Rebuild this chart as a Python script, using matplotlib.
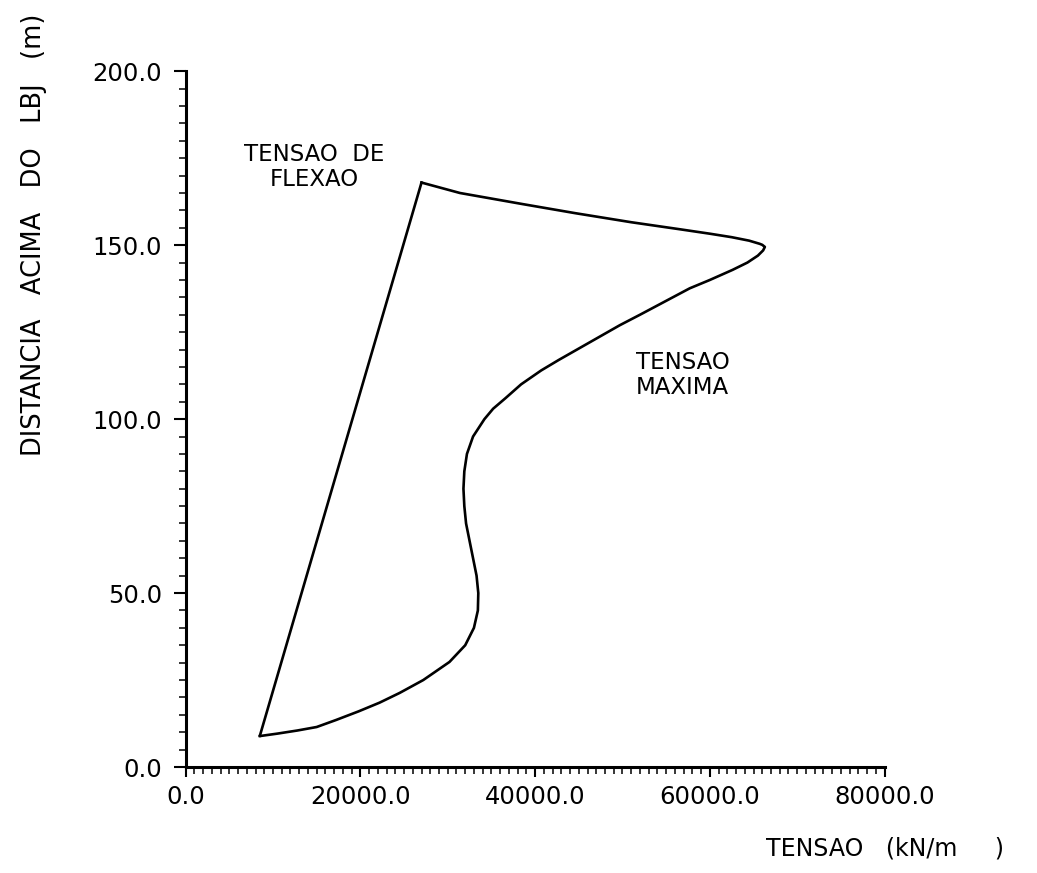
import numpy as np
import matplotlib
matplotlib.use("Agg")
from matplotlib import pyplot as plt
from matplotlib.ticker import MultipleLocator, FormatStrFormatter

# tensao de flexao: straight line
flex_x = [8500, 27000]
flex_y = [9, 168]

# tensao maxima: from bottom apex up to the top corner
max_x = [8500, 10500, 12800, 15000, 17200, 19800, 22200, 24500, 27200, 30200,
         32000, 33000, 33450, 33500, 33300, 32900, 32500, 32100, 31900, 31800,
         31900, 32200, 32900, 34200, 35200, 36600, 38400, 40700, 42700, 44800,
         47600, 49700, 52000, 55000, 57700, 60000, 62600, 64300, 65500, 66100,
         66300, 66000, 65700, 64500, 62500, 60000, 56500, 51000, 44600, 38600,
         35000, 31400, 27000]
max_y = [8.9, 9.6, 10.5, 11.5, 13.5, 16, 18.5, 21.3, 25, 30.2,
         35, 40, 45, 50, 55, 60, 65, 70, 75, 80,
         85, 90, 95, 100, 103, 106, 110, 114, 117, 120,
         124, 127, 130, 134, 137.6, 140, 142.9, 145, 147, 148.5,
         149.5, 150.1, 150.4, 151.3, 152.3, 153.3, 154.6, 156.6, 159.2, 161.8,
         163.4, 165, 168]

xticks = [0, 20000, 40000, 60000, 80000]
yticks = [0, 50, 100, 150, 200]

plt.rcParams['font.family'] = ['DejaVu Sans']
fig = plt.figure(figsize=(10.37, 8.73), dpi=100)
ax = fig.add_axes([0.179, 0.1214, 0.674, 0.797])

ax.plot(flex_x, flex_y, color='black', lw=1.9)
ax.plot(max_x, max_y, color='black', lw=1.9)

ax.set_xlim(0, 80000)
ax.set_ylim(0, 200)
ax.set_xticks(xticks)
ax.set_yticks(yticks)
ax.xaxis.set_minor_locator(MultipleLocator(1000))
ax.yaxis.set_minor_locator(MultipleLocator(5))
ax.xaxis.set_major_formatter(FormatStrFormatter('%.1f'))
ax.yaxis.set_major_formatter(FormatStrFormatter('%.1f'))
ax.tick_params(which='major', direction='out', length=9, width=1.5, labelsize=17.5, pad=8)
ax.tick_params(which='minor', direction='out', length=5, width=1.1)
ax.tick_params(axis='x', which='major', length=7, pad=6)
for s in ['top', 'right']:
    ax.spines[s].set_visible(False)
for s in ['left', 'bottom']:
    ax.spines[s].set_linewidth(2.2)

ax.text(14700, 172.4, 'TENSAO  DE\nFLEXAO', ha='center', va='center',
        multialignment='center', fontsize=16.5, linespacing=1.1)
ax.text(56900, 112.6, 'TENSAO\nMAXIMA', ha='center', va='center',
        multialignment='center', fontsize=16.5, linespacing=1.1)

fig.text(0.853, 0.028, 'TENSAO   (kN/m     )', ha='center', va='center', fontsize=17)
fig.text(0.033, 0.731, 'DISTANCIA   ACIMA   DO   LBJ   (m)', ha='center', va='center',
         rotation=90, fontsize=18.5)

fig.savefig('out.png', dpi=100, facecolor='white')
